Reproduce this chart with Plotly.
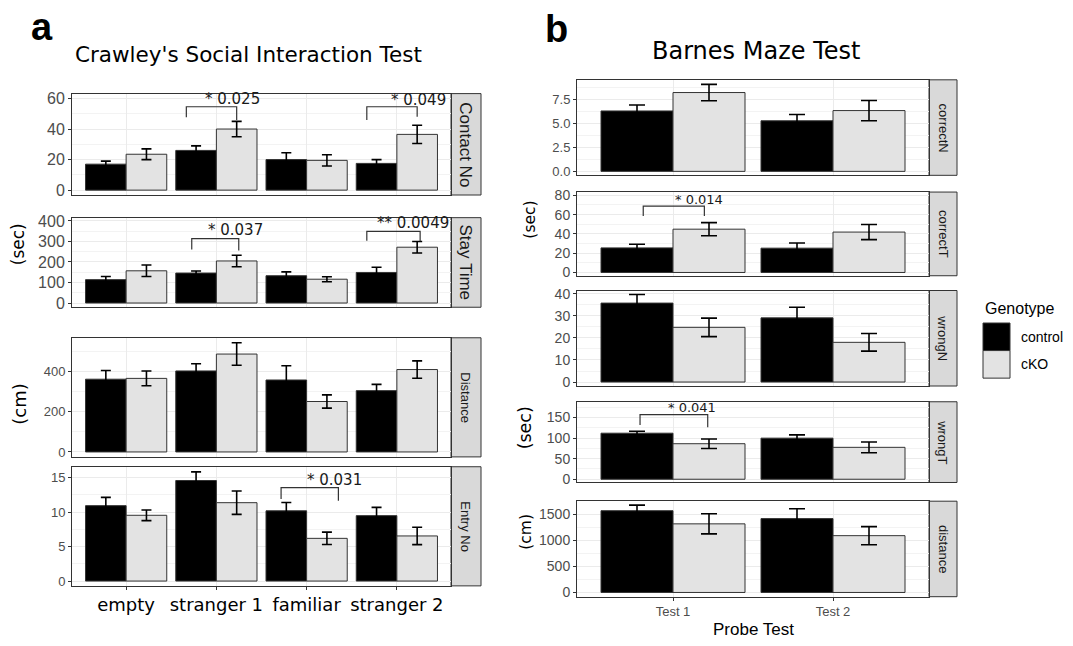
import plotly.graph_objects as go

W, H = 1073, 646

# ---------------- data: Crawley's social interaction test ----------------
social_categories = ["empty", "stranger 1", "familiar", "stranger 2"]

contact_control = [17.0, 26.0, 20.0, 17.5]
contact_control_err = [2.0, 3.0, 4.5, 2.5]
contact_cko = [23.5, 40.0, 19.5, 36.5]
contact_cko_err = [3.5, 5.0, 3.7, 6.0]

stay_control = [114, 146, 133, 149]
stay_control_err = [15, 10, 19, 25]
stay_cko = [157, 205, 116, 272]
stay_cko_err = [28, 28, 12, 28]

dist_control = [362, 403, 358, 305]
dist_control_err = [43, 36, 71, 31]
dist_cko = [366, 487, 251, 410]
dist_cko_err = [37, 56, 33, 43]

entry_control = [10.95, 14.6, 10.2, 9.5]
entry_control_err = [1.2, 1.25, 1.2, 1.2]
entry_cko = [9.55, 11.38, 6.2, 6.55]
entry_cko_err = [0.77, 1.7, 0.9, 1.26]

# ---------------- data: Barnes maze test ----------------
probe_tests = ["Test 1", "Test 2"]

correctN_control = [6.27, 5.25]
correctN_control_err = [0.62, 0.65]
correctN_cko = [8.18, 6.31]
correctN_cko_err = [0.85, 1.05]

correctT_control = [25.5, 25.2]
correctT_control_err = [3.8, 5.4]
correctT_cko = [44.9, 41.9]
correctT_cko_err = [6.8, 7.8]

wrongN_control = [35.8, 29.1]
wrongN_control_err = [3.9, 4.8]
wrongN_cko = [24.8, 18.0]
wrongN_cko_err = [4.2, 4.0]

wrongT_control = [111.7, 99.7]
wrongT_control_err = [4.8, 8.0]
wrongT_cko = [86.2, 77.4]
wrongT_cko_err = [11.5, 13.0]

bdist_control = [1563, 1412]
bdist_control_err = [107, 188]
bdist_cko = [1312, 1086]
bdist_cko_err = [192, 173]

genotypes = ["control", "cKO"]
genotype_colors = ["#000000", "#e3e3e3"]

# significance labels: (panel, x_left, x_right, y_bracket, y_left_end, y_right_end, x_text, y_text, label)
significance = [
    (1, 1.667, 2.225, 54.6, 47.8, 46.0, 2.18, 59.5, "* 0.025"),
    (1, 3.667, 4.225, 54.6, 46.0, 48.0, 4.236, 59.2, "* 0.049"),
    (2, 1.727, 2.248, 313.6, 260.8, 256.0, 2.207, 357, "* 0.037"),
    (2, 3.667, 4.258, 349.0, 304.0, 301.0, 4.18, 389, "** 0.0049"),
    (4, 2.717, 3.352, 13.57, 11.9, 11.67, 3.31, 14.67, "* 0.031"),
    (6, 0.814, 1.196, 68.8, 58.6, 58.6, 1.16, 75.9, "* 0.014"),
    (8, 0.794, 1.217, 157.0, 131.6, 126.0, 1.117, 173.0, "* 0.041"),
]

# ---------------- panel layout (pixel boxes) ----------------
LEFT_X = (72, 451)
LEFT_STRIP = (451, 481)
RIGHT_X = (577, 929)
RIGHT_STRIP = (929, 957)

panels = [
    dict(i=1, col="L", top=90, bot=193, yr=[-3.2, 63.2], dt=20, tf=16, strip="Contact No", sf=17,
         d=(contact_control, contact_control_err, contact_cko, contact_cko_err)),
    dict(i=2, col="L", top=216, bot=307, yr=[-20.6, 416], dt=100, tf=16, strip="Stay Time", sf=17,
         d=(stay_control, stay_control_err, stay_cko, stay_cko_err)),
    dict(i=3, col="L", top=338, bot=459, yr=[-24.5, 568], dt=200, tf=13, strip="Distance", sf=13,
         d=(dist_control, dist_control_err, dist_cko, dist_cko_err)),
    dict(i=4, col="L", top=469, bot=590, yr=[-0.7, 16.6], dt=5, tf=13, strip="Entry No", sf=13,
         d=(entry_control, entry_control_err, entry_cko, entry_cko_err)),
    dict(i=5, col="R", top=76, bot=173, yr=[-0.41, 9.5], dt=2.5, tf=13, strip="correctN", sf=13,
         d=(correctN_control, correctN_control_err, correctN_cko, correctN_cko_err)),
    dict(i=6, col="R", top=190, bot=275, yr=[-3.4, 83.4], dt=20, tf=14, strip="correctT", sf=13,
         d=(correctT_control, correctT_control_err, correctT_cko, correctT_cko_err)),
    dict(i=7, col="R", top=290, bot=387, yr=[-1.8, 41.5], dt=10, tf=14, strip="wrongN", sf=13,
         d=(wrongN_control, wrongN_control_err, wrongN_cko, wrongN_cko_err)),
    dict(i=8, col="R", top=403, bot=485, yr=[-7.9, 188], dt=50, tf=14, strip="wrongT", sf=13,
         d=(wrongT_control, wrongT_control_err, wrongT_cko, wrongT_cko_err)),
    dict(i=9, col="R", top=504, bot=601, yr=[-81, 1745], dt=500, tf=14, strip="distance", sf=13,
         d=(bdist_control, bdist_control_err, bdist_cko, bdist_cko_err)),
]


def px(v):
    return v / W


def py(v):
    return 1 - v / H


fig = go.Figure()
layout = dict(
    width=W, height=H, margin=dict(l=0, r=0, t=0, b=0),
    paper_bgcolor="white", plot_bgcolor="white",
    barmode="group", bargap=0.1, bargroupgap=0.0,
    showlegend=False,
)
shapes = []
annotations = []

for p in panels:
    i = p["i"]
    left = p["col"] == "L"
    cats = social_categories if left else probe_tests
    xs = list(range(1, len(cats) + 1))
    xname = "x" if i == 1 else f"x{i}"
    yname = "y" if i == 1 else f"y{i}"
    cerr_w = 5 if left else 8
    ctrl, ctrl_e, cko, cko_e = p["d"]
    for vals, errs, color, name in [(ctrl, ctrl_e, genotype_colors[0], genotypes[0]),
                                    (cko, cko_e, genotype_colors[1], genotypes[1])]:
        fig.add_trace(go.Bar(
            x=xs, y=vals, name=name, xaxis=xname, yaxis=yname,
            marker=dict(color=color, line=dict(color="#333333", width=1)),
            error_y=dict(type="data", array=errs, color="black", thickness=1.6, width=cerr_w),
        ))
    xl, xr = LEFT_X if left else RIGHT_X
    bottom = i in (4, 9)
    xkey = "xaxis" if i == 1 else f"xaxis{i}"
    ykey = "yaxis" if i == 1 else f"yaxis{i}"
    layout[xkey] = dict(
        domain=[px(xl), px(xr)], anchor=yname, range=[0.4, len(cats) + 0.6],
        tickmode="array", tickvals=xs, ticktext=cats,
        showticklabels=bottom, ticks="outside" if bottom else "", ticklen=3, tickcolor="#333333",
        tickfont=dict(family="DejaVu Sans", size=18, color="#000000") if left
        else dict(family="Liberation Sans", size=13, color="#4d4d4d"),
        showgrid=True, gridcolor="#ebebeb", gridwidth=1,
        showline=True, mirror=True, linecolor="#333333", linewidth=1,
        zeroline=False, fixedrange=True,
    )
    layout[ykey] = dict(
        domain=[py(p["bot"]), py(p["top"])], anchor=xname, range=p["yr"],
        tick0=0, dtick=p["dt"],
        tickformat=".1f" if p["dt"] == 2.5 else "",
        ticks="outside", ticklen=3, tickcolor="#333333",
        tickfont=dict(family="Liberation Sans", size=p["tf"], color="#4d4d4d"),
        showgrid=True, gridcolor="#ebebeb", gridwidth=1,
        minor=dict(tick0=0, dtick=p["dt"] / 2, showgrid=True, gridcolor="#f3f3f3", gridwidth=0.6),
        showline=True, mirror=True, linecolor="#333333", linewidth=1,
        zeroline=False, fixedrange=True,
    )
    sl, sr = LEFT_STRIP if left else RIGHT_STRIP
    shapes.append(dict(type="rect", xref="paper", yref="paper",
                       x0=px(sl), x1=px(sr), y0=py(p["bot"]), y1=py(p["top"]),
                       fillcolor="#d9d9d9", line=dict(color="#333333", width=1), layer="below"))
    annotations.append(dict(xref="paper", yref="paper", x=px((sl + sr) / 2), y=py((p["top"] + p["bot"]) / 2),
                            text=p["strip"], textangle=90, showarrow=False,
                            font=dict(family="Liberation Sans", size=p["sf"], color="#1a1a1a"),
                            xanchor="center", yanchor="middle"))

# significance brackets
for (pi, x0, x1, yb, yl, yr_, xt, yt, lab) in significance:
    xname = "x" if pi == 1 else f"x{pi}"
    yname = "y" if pi == 1 else f"y{pi}"
    shapes.append(dict(type="path", xref=xname, yref=yname,
                       path=f"M {x0},{yl} L {x0},{yb} L {x1},{yb} L {x1},{yr_}",
                       line=dict(color="#333333", width=1.2)))
    annotations.append(dict(xref=xname, yref=yname, x=xt, y=yt, text=lab, showarrow=False,
                            font=dict(family="DejaVu Sans", size=15 if pi <= 4 else 13, color="#1a1a1a"),
                            xanchor="center", yanchor="middle"))


def txt(x, y, s, size, family="DejaVu Sans", color="#000000", angle=0, xanchor="center", bold=False):
    annotations.append(dict(xref="paper", yref="paper", x=px(x), y=py(y),
                            text=f"<b>{s}</b>" if bold else s, textangle=angle, showarrow=False,
                            font=dict(family=family, size=size, color=color),
                            xanchor=xanchor, yanchor="middle"))


txt(42, 22, "a", 38, family="Liberation Sans", bold=True)
txt(556, 24, "b", 38, family="Liberation Sans", bold=True)
txt(248, 50, "Crawley's Social Interaction Test", 21.5)
txt(756, 47, "Barnes Maze Test", 24)
txt(18, 243, "(sec)", 17, angle=-90)
txt(20, 406, "(cm)", 18, angle=-90)
txt(530, 218, "(sec)", 15.5, angle=-90)
txt(525, 430, "(sec)", 17.5, angle=-90)
txt(526, 535, "(cm)", 15.5, angle=-90)
txt(753, 634, "Probe Test", 17, family="Liberation Sans")

# legend
txt(983, 308, "Genotype", 16, family="Liberation Sans", xanchor="left")
for k, (g, c) in enumerate(zip(genotypes, genotype_colors)):
    y0 = 323 + k * 28
    shapes.append(dict(type="rect", xref="paper", yref="paper",
                       x0=px(983), x1=px(1010), y0=py(y0 + 28), y1=py(y0),
                       fillcolor=c, line=dict(color="#333333", width=1)))
    txt(1019, y0 + 14, g, 14, family="Liberation Sans", xanchor="left")

layout["shapes"] = shapes
layout["annotations"] = annotations
fig.update_layout(**layout)
fig.write_html("out.html", config={"displayModeBar": False},
               post_script="document.body.style.margin='0px';document.body.style.overflow='hidden';")
